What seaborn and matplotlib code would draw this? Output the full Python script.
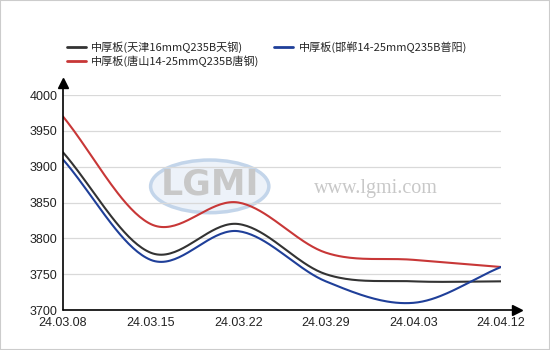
import numpy as np
import pandas as pd
import matplotlib
matplotlib.use("Agg")
import matplotlib.pyplot as plt
import seaborn as sns
from matplotlib.lines import Line2D
from matplotlib.patches import Rectangle, Ellipse

# ---- data ----
dates = ["24.03.08", "24.03.15", "24.03.22", "24.03.29", "24.04.03", "24.04.12"]
tianjin = [3920, 3780, 3820, 3750, 3740, 3740]
tangshan = [3970, 3820, 3850, 3780, 3770, 3760]
handan = [3910, 3770, 3810, 3740, 3710, 3760]
names = ["中厚板(天津16mmQ235B天钢)", "中厚板(唐山14-25mmQ235B唐钢)", "中厚板(邯郸14-25mmQ235B普阳)"]
colors = ["#333333", "#c83737", "#1f3f99"]
yticks = [3700, 3750, 3800, 3850, 3900, 3950, 4000]

sns.set_theme(style="white")
plt.rcParams["font.family"] = ["Liberation Sans", "Noto Sans CJK SC", "DejaVu Sans"]


def smooth(vals, n=40):
    """Catmull-Rom spline rendering through the data points."""
    v = np.asarray(vals, float)
    k = len(v)
    t = np.arange(k, dtype=float)
    m = np.zeros(k)
    m[1:-1] = (v[2:] - v[:-2]) / 2
    m[0] = v[1] - v[0]
    m[-1] = v[-1] - v[-2]
    xs, ys = [], []
    for i in range(k - 1):
        s = np.linspace(0, 1, n, endpoint=(i == k - 2))
        h00 = 2 * s**3 - 3 * s**2 + 1
        h10 = s**3 - 2 * s**2 + s
        h01 = -2 * s**3 + 3 * s**2
        h11 = s**3 - s**2
        ys.append(h00 * v[i] + h10 * m[i] + h01 * v[i + 1] + h11 * m[i + 1])
        xs.append(t[i] + s)
    return np.concatenate(xs), np.concatenate(ys)


frames = []
for nm, vals in zip(names, [tianjin, tangshan, handan]):
    xs, ys = smooth(vals)
    frames.append(pd.DataFrame({"x": xs, "y": ys, "series": nm}))
df = pd.concat(frames, ignore_index=True)

fig = plt.figure(figsize=(5.5, 3.5), dpi=100)
fig.patch.set_facecolor("white")
ax = fig.add_axes([63 / 550, 1 - 310 / 350, 438 / 550, 215 / 350])
ax.set_facecolor("white")

# watermark
ax.add_patch(Ellipse((0.335, 0.575), 0.27, 0.245, transform=ax.transAxes,
                     facecolor="#edf2f9", edgecolor="#c3d5ea", lw=2.5, zorder=0.5))
ax.text(0.335, 0.585, "LGMI", transform=ax.transAxes, ha="center", va="center",
        fontsize=25, fontweight="bold", color="#c8c8c8", zorder=0.6,
        family=["DejaVu Sans"])
ax.text(0.715, 0.565, "www.lgmi.com", transform=ax.transAxes, ha="center", va="center",
        fontsize=14.5, color="#c8c8c8", family=["Liberation Serif"], zorder=0.6)

sns.lineplot(data=df, x="x", y="y", hue="series", palette=dict(zip(names, colors)),
             legend=False, ax=ax, linewidth=1.5, sort=False, zorder=3)

ax.set_xlim(0, len(dates) - 1)
ax.set_ylim(3700, 4000)
ax.set_xticks(range(len(dates)))
ax.set_xticklabels(dates)
ax.set_yticks(yticks)
ax.set_xlabel("")
ax.set_ylabel("")
ax.grid(axis="y", color="#d9d9d9", linewidth=0.9)
ax.grid(axis="x", visible=False)
for s in ["top", "right", "left", "bottom"]:
    ax.spines[s].set_visible(False)
ax.tick_params(axis="both", labelsize=9, colors="#222222", length=3, width=0.8,
               direction="out", pad=2)
ax.tick_params(axis="x", colors="#999999", labelcolor="#222222", pad=2)
ax.tick_params(axis="y", colors="#222222", pad=1)

# axis lines with arrows
ax.plot([0, 0], [0, 1 + 14 / 215], transform=ax.transAxes, color="black", lw=1.2,
        clip_on=False, zorder=4)
ax.plot([0], [1 + 12 / 215], transform=ax.transAxes, marker="^", color="black",
        markersize=7, clip_on=False, zorder=4)
ax.plot([0, 1 + 18 / 438], [0, 0], transform=ax.transAxes, color="black", lw=1.2,
        clip_on=False, zorder=4)
ax.plot([1 + 16 / 438], [0], transform=ax.transAxes, marker=">", color="black",
        markersize=7, clip_on=False, zorder=4)

handles = [Line2D([], [], color=c, lw=2) for c in colors]
fig.legend(handles, names, ncol=2, loc="upper left", bbox_to_anchor=(59 / 550, 1 - 34 / 350),
           frameon=False, handlelength=1.7, handletextpad=0.5,
           columnspacing=1.3, labelspacing=0.2, borderpad=0.2,
           prop={"family": ["Noto Sans CJK SC", "DejaVu Sans"], "size": 8})

fig.add_artist(Rectangle((0, 0), 1, 1, transform=fig.transFigure, fill=False,
                         edgecolor="#cccccc", lw=1.5))

fig.savefig("out.png", dpi=100)
